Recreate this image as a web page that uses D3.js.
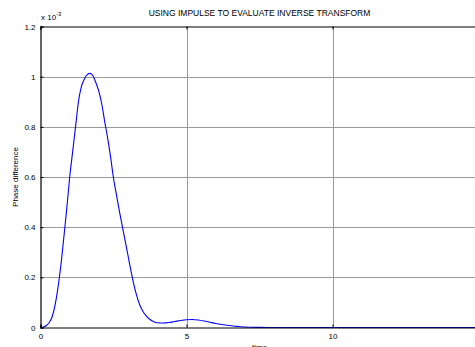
<!DOCTYPE html>
<html>
<head>
<meta charset="utf-8">
<script src="https://cdn.jsdelivr.net/npm/d3@7"></script>
<style>
  body { margin: 0; background: #fff; }
  svg { display: block; font-family: "Liberation Sans", Arial, sans-serif; }
</style>
</head>
<body>
<svg id="chart" width="475" height="347"></svg>
<script>
// ---- data (values in units of 1e-3) ----
const timeValues = [0, 0.1, 0.2, 0.3, 0.4, 0.5, 0.6, 0.7, 0.8, 0.9, 1.0, 1.1, 1.2, 1.3, 1.4, 1.5, 1.6, 1.7, 1.8, 1.9,
  2.0, 2.1, 2.2, 2.3, 2.4, 2.5, 2.6, 2.7, 2.8, 2.9, 3.0, 3.1, 3.2, 3.3, 3.4, 3.5, 3.6, 3.7, 3.8, 3.9,
  4.0, 4.2, 4.4, 4.6, 4.8, 5.0, 5.2, 5.4, 5.6, 5.8, 6.0, 6.2, 6.4, 6.6, 6.8, 7.0, 7.5, 8.0, 10, 12, 15];
const phaseValues = [0, 0.002, 0.008, 0.02, 0.043, 0.09, 0.16, 0.25, 0.36, 0.475, 0.60, 0.70, 0.80, 0.90, 0.96, 0.99, 1.008, 1.013, 1.003, 0.975,
  0.94, 0.89, 0.82, 0.755, 0.68, 0.595, 0.53, 0.465, 0.405, 0.345, 0.285, 0.225, 0.17, 0.125, 0.09, 0.066, 0.049, 0.037, 0.028, 0.022,
  0.019, 0.018, 0.020, 0.024, 0.028, 0.031, 0.032, 0.030, 0.026, 0.021, 0.016, 0.012, 0.009, 0.006, 0.004, 0.002, 0.0005, 0, 0, 0, 0];
const xTicks = [0, 5, 10, 15];
const yTicks = [0, 0.2, 0.4, 0.6, 0.8, 1, 1.2];
const titleText = "USING IMPULSE TO EVALUATE INVERSE TRANSFORM";
const xLabelText = "time";
const yLabelText = "Phase difference";

// ---- layout ----
const svg = d3.select("#chart");
const plotL = 40.5, plotR = 478.5, plotT = 26.5, plotB = 327.5;
const x = d3.scaleLinear().domain([0, 15]).range([plotL, plotR]);
const y = d3.scaleLinear().domain([0, 1.2]).range([plotB, plotT]);

// grid
const grid = svg.append("g").attr("stroke", "#9a9a9a").attr("stroke-width", 1);
grid.selectAll("line.h").data(yTicks.filter(d => d > 0 && d < 1.2)).join("line")
  .attr("x1", plotL).attr("x2", plotR).attr("y1", d => Math.round(y(d)) + 0.5).attr("y2", d => Math.round(y(d)) + 0.5);
grid.selectAll("line.v").data(xTicks.filter(d => d > 0 && d < 15)).join("line")
  .attr("y1", plotT).attr("y2", plotB).attr("x1", d => Math.round(x(d)) + 0.5).attr("x2", d => Math.round(x(d)) + 0.5);

// curve
const pts = timeValues.map((t, i) => [t, phaseValues[i]]);
svg.append("path").datum(pts)
  .attr("fill", "none").attr("stroke", "#0000ff").attr("stroke-width", 1.1)
  .attr("d", d3.line().x(d => x(d[0])).y(d => y(d[1])).curve(d3.curveMonotoneX));

// axes
const xAxisB = d3.axisBottom(x).tickValues(xTicks).tickSize(-3).tickPadding(6).tickFormat(d3.format("d"));
const xAxisT = d3.axisTop(x).tickValues(xTicks).tickSize(-3).tickFormat("");
const yAxisL = d3.axisLeft(y).tickValues(yTicks).tickSize(-3).tickPadding(5).tickFormat(d => d === 0 ? "0" : (d === 1 ? "1" : d3.format(".1f")(d)));

function style(g) {
  g.select(".domain").attr("stroke", "#000").attr("stroke-width", 1.2);
  g.selectAll(".tick line").attr("stroke", "#000");
  g.selectAll(".tick text").attr("fill", "#000").attr("font-size", 8).attr("font-family", "Liberation Sans, Arial, sans-serif");
}
svg.append("g").attr("transform", `translate(0,${plotB})`).call(xAxisB).call(style);
svg.append("g").attr("transform", `translate(0,${plotT})`).call(xAxisT).call(style);
svg.append("g").attr("transform", `translate(${plotL},0)`).call(yAxisL).call(style);

// exponent label
const ex = svg.append("text").attr("x", 41).attr("y", 20).attr("font-size", 8).attr("fill", "#000");
ex.append("tspan").text("x 10");
ex.append("tspan").attr("dy", -4).attr("font-size", 6).text("-3");

// title
svg.append("text").attr("x", (plotL + plotR) / 2).attr("y", 16).attr("text-anchor", "middle")
  .attr("font-size", 8.5).attr("fill", "#000").text(titleText);

// x label
svg.append("text").attr("x", (plotL + plotR) / 2).attr("y", 350).attr("text-anchor", "middle")
  .attr("font-size", 8).attr("fill", "#000").text(xLabelText);

// y label
svg.append("text").attr("transform", `translate(18,${(plotT + plotB) / 2}) rotate(-90)`)
  .attr("text-anchor", "middle").attr("font-size", 8).attr("fill", "#000").text(yLabelText);
</script>
</body>
</html>
